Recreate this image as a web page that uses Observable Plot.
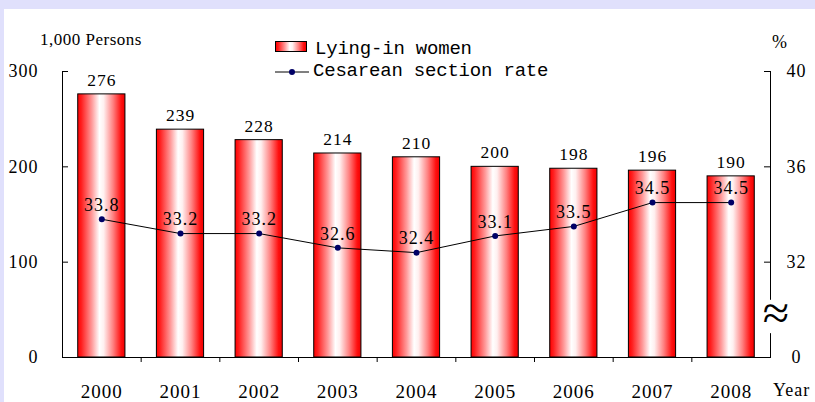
<!DOCTYPE html>
<html><head><meta charset="utf-8">
<script src="https://cdn.jsdelivr.net/npm/d3@7"></script>
<script src="https://cdn.jsdelivr.net/npm/@observablehq/plot@0.6"></script>
<style>
html,body{margin:0;padding:0;}
body{width:815px;height:402px;background:#e0e0fc;position:relative;overflow:hidden;font-family:"Liberation Serif",serif;}
#panel{position:absolute;left:4px;top:9px;right:0;bottom:0;background:#fff;}
#chart{position:absolute;left:0;top:0;}
#chart svg, #chart svg text{font-family:"Liberation Serif",serif !important;}
#chart svg text{letter-spacing:1px;}
.lbl{position:absolute;white-space:nowrap;color:#000;line-height:1;}
.mono{font-family:"Liberation Mono",monospace;font-size:19px;letter-spacing:-0.2px;}
#swatch{position:absolute;left:275px;top:41px;width:32px;height:11px;box-sizing:border-box;border:1px solid #000;
  background:linear-gradient(to right,#ff0000 0%,#ff2020 8%,#ff9a9a 30%,#ffffff 46%,#fff0f0 55%,#ff8080 75%,#ff1010 92%,#ee0000 100%);}
#lineSym{position:absolute;left:275px;top:66px;}
</style></head><body>
<div id="panel"></div>
<div id="chart"></div>
<div class="lbl" style="left:40px;top:31px;font-size:17px;letter-spacing:0.5px;">1,000 Persons</div>
<div class="lbl" style="left:772px;top:33px;font-size:18px;">%</div>
<div class="lbl" style="left:773px;top:381px;font-size:18px;letter-spacing:1px;">Year</div>
<div id="swatch"></div>
<div class="lbl mono" style="left:315px;top:40px;">Lying-in women</div>
<svg id="lineSym" width="34" height="12"><line x1="0" x2="34" y1="6" y2="6" stroke="#000" stroke-width="1"/><circle cx="17" cy="6" r="3" fill="#000066"/></svg>
<div class="lbl mono" style="left:313px;top:62px;">Cesarean section rate</div>
<script>
const years = [2000, 2001, 2002, 2003, 2004, 2005, 2006, 2007, 2008];
const persons = [276, 239, 228, 214, 210, 200, 198, 196, 190];
const rates = [33.8, 33.2, 33.2, 32.6, 32.4, 33.1, 33.5, 34.5, 34.5];
const leftTicks = [0, 100, 200, 300];
const rightTicks = [28, 32, 36, 40];      // 28 is shown as the broken origin "0"
const rateBase = 28, rateTop = 40;
const axisBreak = [29.0, 30.4];
const FONT = "Liberation Serif";

const rows = years.map((year, i) => ({year, persons: persons[i], rate: rates[i]}));
const toLeft = r => (r - rateBase) / (rateTop - rateBase) * 300;
const midpoints = years.slice(1).map(y => y - 0.5);

function defs() {
  const ns = "http://www.w3.org/2000/svg";
  const d = document.createElementNS(ns, "defs");
  const g = document.createElementNS(ns, "linearGradient");
  g.setAttribute("id", "barGrad");
  g.setAttribute("x1", "0"); g.setAttribute("x2", "1"); g.setAttribute("y1", "0"); g.setAttribute("y2", "0");
  [[0, "#ff0000"], [0.08, "#ff2020"], [0.3, "#ff9a9a"], [0.46, "#ffffff"], [0.55, "#fff0f0"], [0.75, "#ff8080"], [0.92, "#ff1010"], [1, "#ee0000"]].forEach(([o, c]) => {
    const s = document.createElementNS(ns, "stop");
    s.setAttribute("offset", o); s.setAttribute("stop-color", c);
    g.appendChild(s);
  });
  d.appendChild(g);
  return d;
}

const chart = Plot.plot({
  width: 815, height: 402,
  marginLeft: 62, marginRight: 45, marginTop: 71, marginBottom: 45,
  style: {background: "transparent", fontFamily: FONT, fontSize: "18px", color: "#000", overflow: "visible"},
  x: {type: "linear", domain: [1999.5, 2008.5], axis: null},
  y: {domain: [0, 300], axis: null},
  marks: [
    defs,
    Plot.rectY(rows, {x1: d => d.year - 0.3, x2: d => d.year + 0.3, y1: 0, y2: "persons", fill: "url(#barGrad)", stroke: "#000", strokeWidth: 1}),
    Plot.ruleY([0], {stroke: "#000"}),
    Plot.ruleX([1999.5], {y1: 0, y2: 300, stroke: "#000"}),
    Plot.ruleX([2008.5], {y1: 0, y2: toLeft(axisBreak[0]), stroke: "#000"}),
    Plot.ruleX([2008.5], {y1: toLeft(axisBreak[1]), y2: 300, stroke: "#000"}),
    Plot.axisY({anchor: "left", ticks: leftTicks, tickSize: 6, dx: 6, tickFormat: () => "", label: null}),
    Plot.axisY({anchor: "left", ticks: leftTicks, tickSize: 0, tickPadding: 24, label: null, fontSize: 18, fontFamily: FONT}),
    Plot.axisY({anchor: "right", ticks: rightTicks.map(toLeft), tickSize: 7, dx: -7, tickFormat: () => "", label: null}),
    Plot.axisY({anchor: "right", ticks: rightTicks.map(toLeft), tickSize: 0, tickPadding: 26, textAnchor: "middle", label: null, fontSize: 18, fontFamily: FONT,
      tickFormat: d => { const r = Math.round(rateBase + d / 300 * (rateTop - rateBase)); return r === rateBase ? "0" : String(r); }}),
    Plot.axisX({ticks: midpoints, tickSize: 5, tickFormat: () => "", label: null}),
    Plot.axisX({ticks: years, tickSize: 0, tickPadding: 27, tickFormat: d => String(d), label: null, fontSize: 19, fontFamily: FONT}),
    Plot.text(rows, {x: "year", y: "persons", text: d => String(d.persons), dy: -14, fontSize: 17.5, fontFamily: FONT}),
    Plot.line(rows, {x: "year", y: d => toLeft(d.rate), stroke: "#000", strokeWidth: 1}),
    Plot.dot(rows, {x: "year", y: d => toLeft(d.rate), r: 3, fill: "#000066"}),
    Plot.text(rows, {x: "year", y: d => toLeft(d.rate), text: d => d.rate.toFixed(1), dy: -14, fontSize: 18, fontFamily: FONT}),
    Plot.text(["≈"], {x: () => 2008.5, y: () => toLeft((axisBreak[0] + axisBreak[1]) / 2), dx: 6, dy: -3, fontSize: 48, fontFamily: FONT})
  ]
});
document.getElementById("chart").appendChild(chart);
</script>
</body></html>
